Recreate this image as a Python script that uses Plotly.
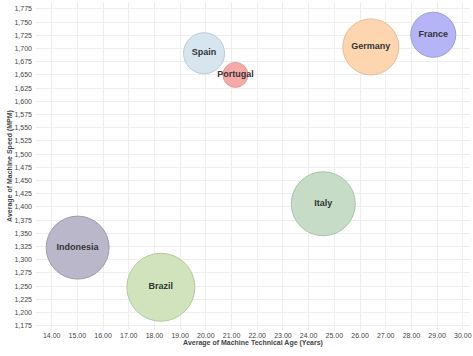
import plotly.graph_objects as go

countries = ["Spain", "Portugal", "Germany", "France", "Italy", "Indonesia", "Brazil"]
avg_age = [19.93, 21.15, 26.42, 28.85, 24.57, 15.01, 18.25]
avg_speed = [1691, 1650, 1703, 1726, 1406, 1323, 1248]
bubble_size = [41, 25, 56, 45, 64, 63, 68]
fill_colors = ["#d7e5ef", "#f6a9a9", "#fdd6b0", "#b4b4f6", "#c7dcc7", "#bbb7ca", "#d1e3bd"]
line_colors = ["#b9cad6", "#e39a9a", "#e6bc95", "#9a9ae0", "#a9c2a9", "#9f9aaf", "#b4c9a0"]

fig = go.Figure(go.Scatter(
    x=avg_age, y=avg_speed, mode="markers+text", text=countries,
    textposition="middle center",
    textfont=dict(family="Liberation Sans", size=9, color="#333333", weight="bold"),
    marker=dict(size=bubble_size, sizemode="diameter", sizeref=1,
                color=fill_colors, opacity=1,
                line=dict(color=line_colors, width=1)),
    hoverinfo="skip", showlegend=False, cliponaxis=False,
))

fig.update_layout(
    width=473, height=356,
    margin=dict(l=36, r=3, t=2, b=26),
    paper_bgcolor="white", plot_bgcolor="white",
    font=dict(family="Liberation Sans", size=7, color="#444444"),
    xaxis=dict(range=[13.39, 30.28], dtick=1, tick0=14, tickformat=".2f",
               automargin=False,
               showgrid=True, gridcolor="#eeeeee", gridwidth=1, zeroline=False,
               showline=False, ticks="", ticklabelstandoff=0,
               tickfont=dict(size=7, color="#444444"),
               title=dict(text="<b>Average of Machine Technical Age (Years)</b>",
                          font=dict(size=7, color="#444444"), standoff=1)),
    yaxis=dict(range=[1167, 1788], dtick=25, tick0=1175, tickformat=",",
               automargin=False,
               showgrid=True, gridcolor="#eeeeee", gridwidth=1, zeroline=False,
               showline=False, ticks="", ticklabelstandoff=3,
               tickfont=dict(size=7, color="#444444"),
               title=dict(text="<b>Average of Machine Speed (MPM)</b>",
                          font=dict(size=7, color="#444444"), standoff=1)),
)

fig.write_html("out.html", config={"displayModeBar": False},
               post_script="document.body.style.margin='0';")
